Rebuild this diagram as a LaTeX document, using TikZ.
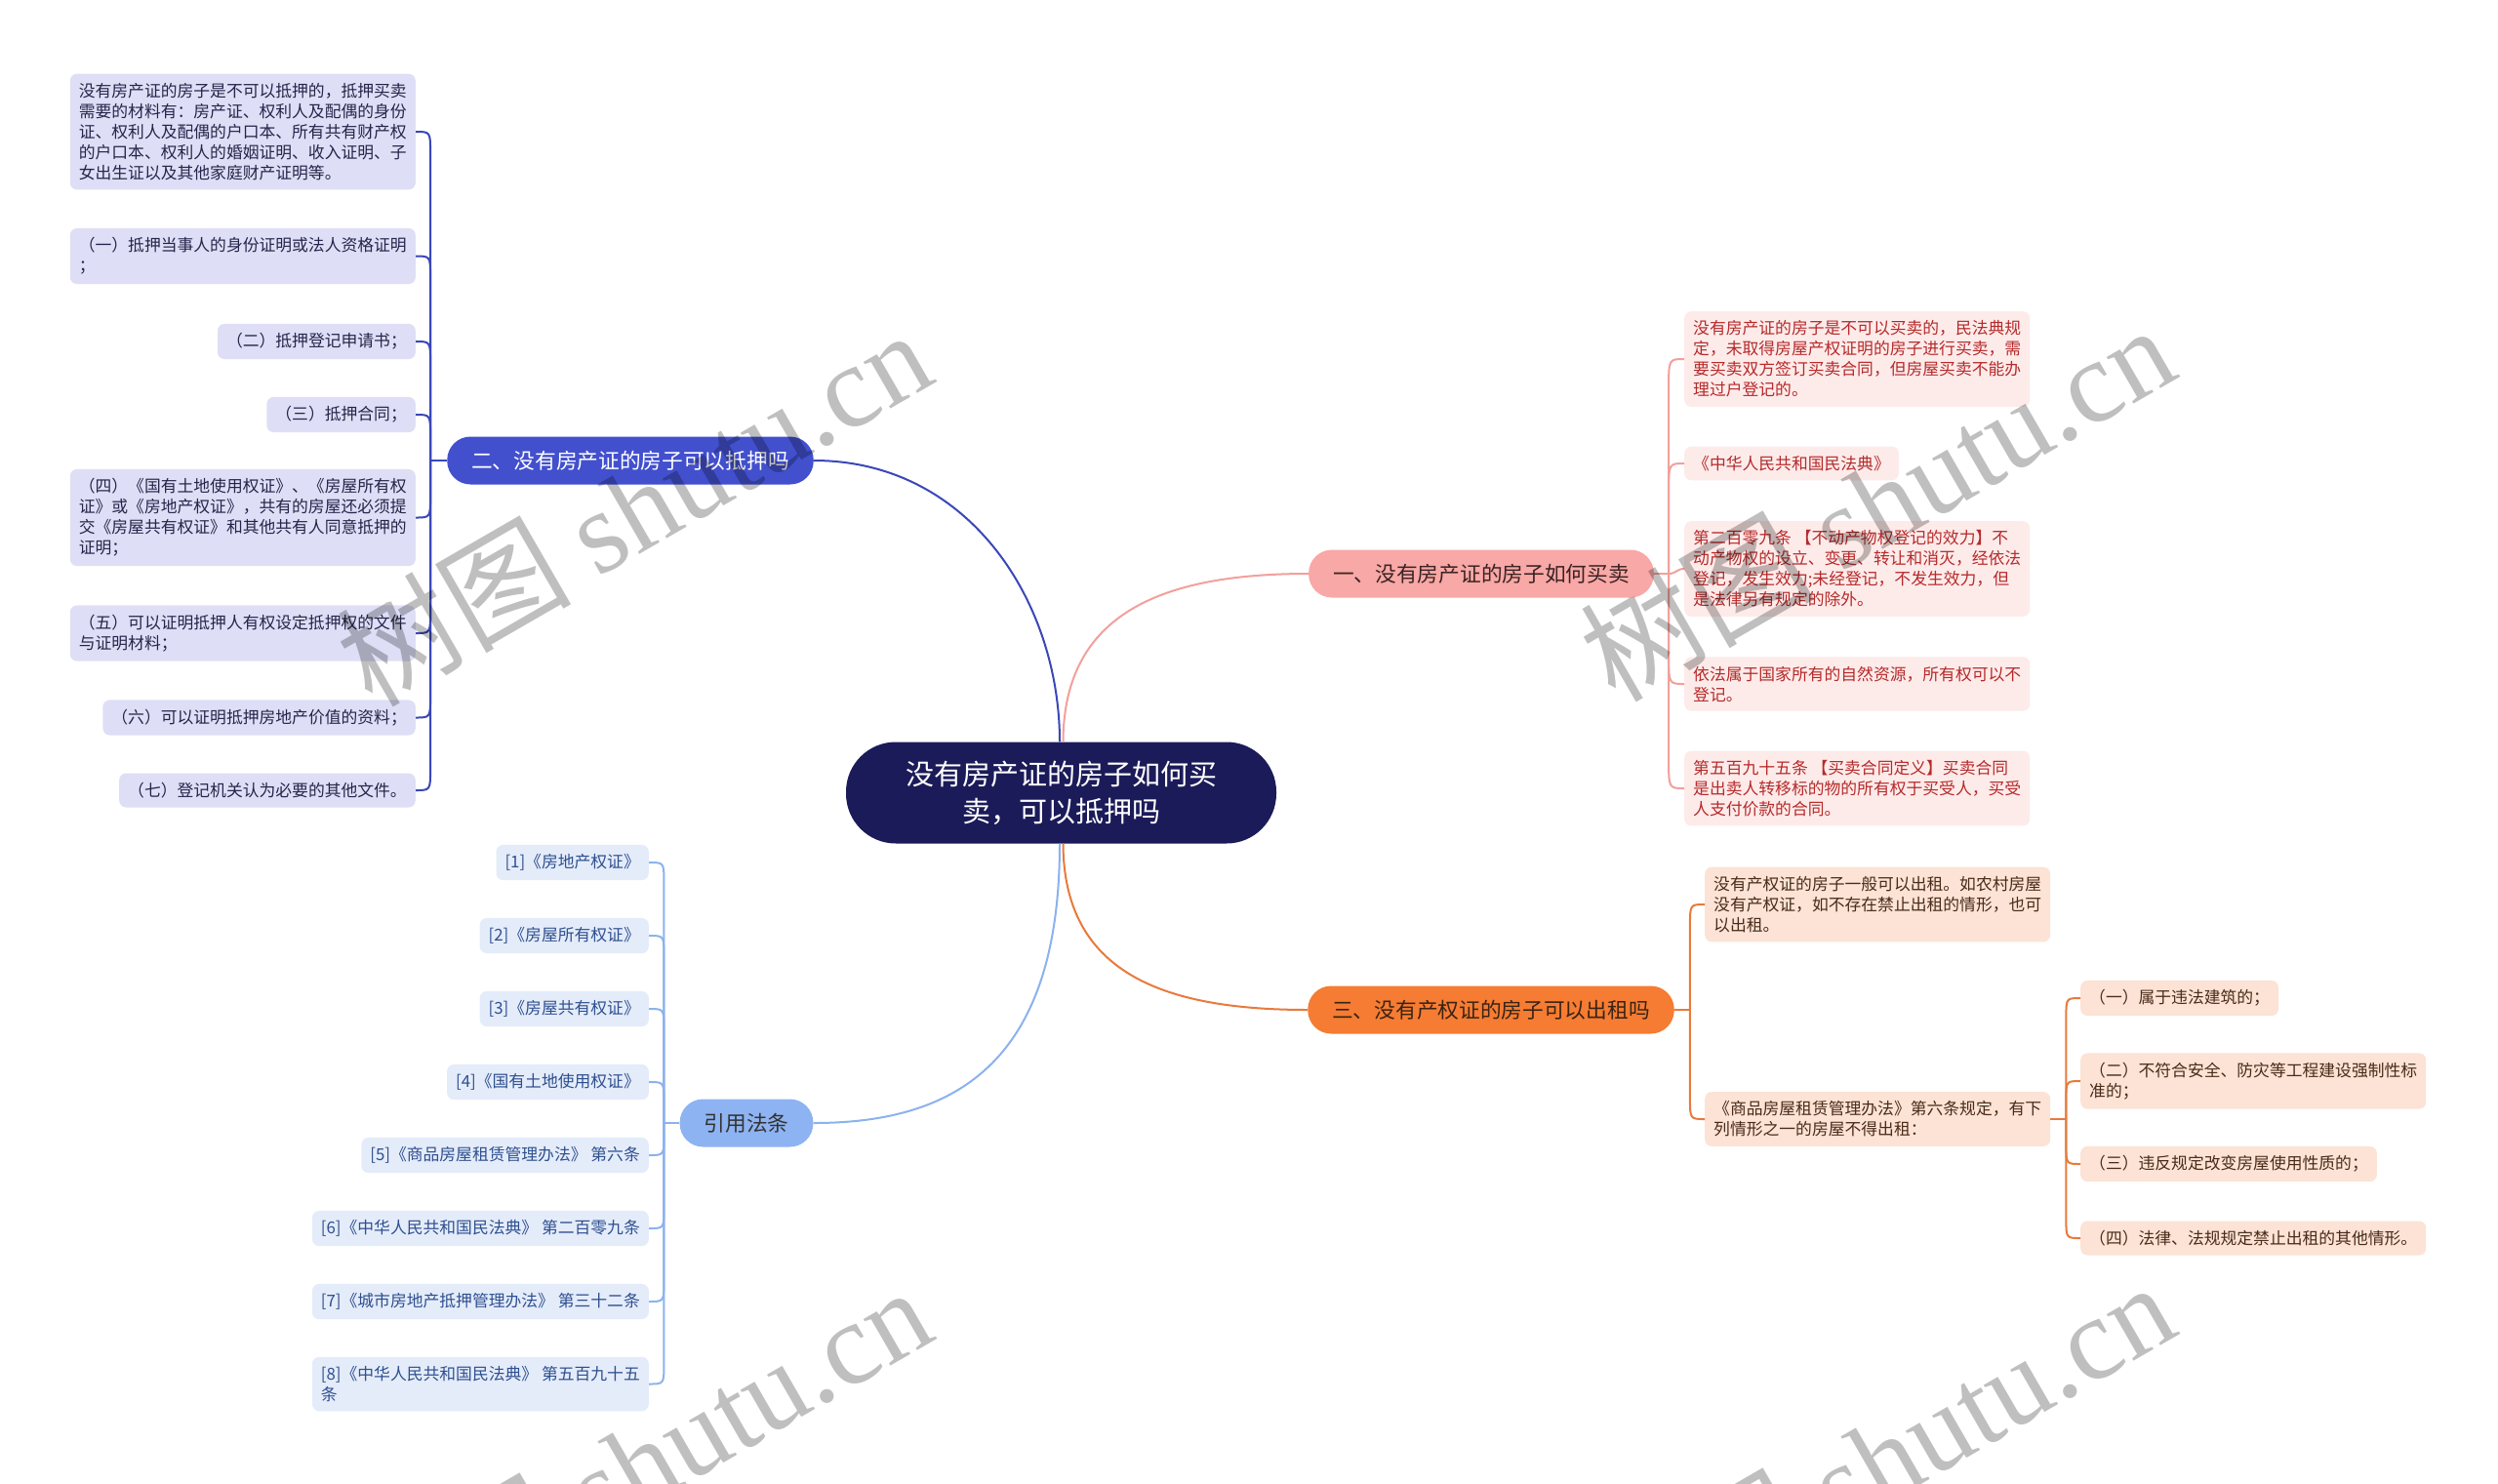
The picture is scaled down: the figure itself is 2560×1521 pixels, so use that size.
\documentclass[tikz,border=0pt]{standalone}
\usepackage{fontspec}
\setmainfont{Noto Sans CJK SC}
\newfontfamily\wmserif{Liberation Serif}
\newfontfamily\cjkf{Noto Sans CJK SC}
\usetikzlibrary{calc}
\definecolor{ctrfill}{RGB}{28,27,89}
\definecolor{btwo}{RGB}{66,80,206}
\definecolor{bone}{RGB}{248,168,166}
\definecolor{bthree}{RGB}{245,124,50}
\definecolor{bfour}{RGB}{141,179,242}
\definecolor{twoline}{RGB}{58,71,184}
\definecolor{oneline}{RGB}{242,160,156}
\definecolor{threeline}{RGB}{232,122,60}
\definecolor{fourline}{RGB}{140,178,238}
\definecolor{twoleaf}{RGB}{222,223,246}
\definecolor{twotext}{RGB}{37,37,74}
\definecolor{oneleaf}{RGB}{253,235,234}
\definecolor{onetext}{RGB}{181,42,42}
\definecolor{threeleaf}{RGB}{252,227,213}
\definecolor{threetext}{RGB}{74,42,24}
\definecolor{fourleaf}{RGB}{228,236,250}
\definecolor{fourtext}{RGB}{47,79,143}
\newcommand\hookto[4]{\draw[#4] (#1) -- ($(#1 |- #2)+(0,#3)$) .. controls (#1 |- #2) .. (#2);}
\newcommand\sto[3]{\draw[#3] (#1) .. controls ([xshift=8pt]#1) and ([xshift=-8pt]#2) .. (#2);}
\newcommand\stol[3]{\draw[#3] (#1) .. controls ([xshift=-8pt]#1) and ([xshift=8pt]#2) .. (#2);}
\begin{document}
\begin{tikzpicture}[x=1pt,y=-1pt,
  leaf/.style={rounded corners=7pt, inner xsep=9pt, inner ysep=9.5pt, align=left, font=\fontsize{16.8}{21}\selectfont},
  twobox/.style={leaf, fill=twoleaf, text=twotext, anchor=east},
  onebox/.style={leaf, fill=oneleaf, text=onetext, anchor=west},
  threebox/.style={leaf, fill=threeleaf, text=threetext, anchor=west},
  fourbox/.style={leaf, fill=fourleaf, text=fourtext, anchor=east},
  branch/.style={rounded corners=24pt, minimum height=49pt, inner xsep=25pt, inner ysep=0pt, font=\fontsize{21.7}{26}\selectfont},
  ctrbox/.style={rounded corners=51pt, fill=ctrfill, text=white, minimum width=441pt, minimum height=104pt, align=center, inner sep=0pt, font=\fontsize{29}{38}\selectfont},
  lnTwo/.style={draw=twoline, line width=2pt},
  lnOne/.style={draw=oneline, line width=2pt},
  lnThree/.style={draw=threeline, line width=2pt},
  lnFour/.style={draw=fourline, line width=2pt},
  wmark/.style={text=black, opacity=0.25, rotate=30, inner sep=0pt},
]
\useasboundingbox[fill=white] (0,0) rectangle (2560,1521);

% central and main branches
\node[ctrbox] (c) at (1087.5,812.5) {没有房产证的房子如何买\\卖，可以抵押吗};
\node[branch, fill=btwo, text=white] (n2) at (646,472) {二、没有房产证的房子可以抵押吗};
\node[branch, fill=bone, text={rgb,255:red,59;green,35;blue,35}] (n1) at (1518,588) {一、没有房产证的房子如何买卖};
\node[branch, fill=bthree, text={rgb,255:red,59;green,35;blue,20}] (n3) at (1528,1035) {三、没有产权证的房子可以出租吗};
\node[branch, fill=bfour, text={rgb,255:red,51;green,51;blue,51}] (n4) at (765,1151) {引用法条};

% main connectors
\draw[lnTwo] ([xshift=-1.5pt]c.north) .. controls (1086,618) and (994,472) .. (n2.east);
\draw[lnOne] ([xshift=2pt]c.north) .. controls (1090,629) and (1190,588) .. (n1.west);
\draw[lnThree] ([xshift=2pt]c.south) .. controls (1090,996) and (1190,1035) .. (n3.west);
\draw[lnFour] ([xshift=-1.5pt]c.south) .. controls (1086,1095) and (973,1151) .. (n4.east);

% branch two leaves (left)
\node[twobox] (a1) at (426,135) {没有房产证的房子是不可以抵押的，抵押买卖\\需要的材料有：房产证、权利人及配偶的身份\\证、权利人及配偶的户口本、所有共有财产权\\的户口本、权利人的婚姻证明、收入证明、子\\女出生证以及其他家庭财产证明等。};
\node[twobox] (a2) at (426,262.5) {（一）抵押当事人的身份证明或法人资格证明\\；};
\node[twobox] (a3) at (426,350) {（二）抵押登记申请书；};
\node[twobox] (a4) at (426,425) {（三）抵押合同；};
\node[twobox] (a5) at (426,530.5) {（四）《国有土地使用权证》、《房屋所有权\\证》或《房地产权证》，共有的房屋还必须提\\交《房屋共有权证》和其他共有人同意抵押的\\证明；};
\node[twobox] (a6) at (426,649) {（五）可以证明抵押人有权设定抵押权的文件\\与证明材料；};
\node[twobox] (a7) at (426,735.5) {（六）可以证明抵押房地产价值的资料；};
\node[twobox] (a8) at (426,810) {（七）登记机关认为必要的其他文件。};

\coordinate (h2) at ([xshift=-17pt]n2.west);
\draw[lnTwo] (n2.west) -- (h2);
\hookto{h2}{a1.east}{22}{lnTwo}
\hookto{h2}{a2.east}{22}{lnTwo}
\hookto{h2}{a3.east}{22}{lnTwo}
\hookto{h2}{a4.east}{22}{lnTwo}
\hookto{h2}{a5.east}{-22}{lnTwo}
\hookto{h2}{a6.east}{-22}{lnTwo}
\hookto{h2}{a7.east}{-22}{lnTwo}
\hookto{h2}{a8.east}{-22}{lnTwo}

% branch one leaves (right)
\node[onebox] (b1) at (1726,368) {没有房产证的房子是不可以买卖的，民法典规\\定，未取得房屋产权证明的房子进行买卖，需\\要买卖双方签订买卖合同，但房屋买卖不能办\\理过户登记的。};
\node[onebox] (b2) at (1726,475) {《中华人民共和国民法典》};
\node[onebox] (b3) at (1726,583) {第二百零九条 【不动产物权登记的效力】不\\动产物权的设立、变更、转让和消灭，经依法\\登记，发生效力;未经登记，不发生效力，但\\是法律另有规定的除外。};
\node[onebox] (b4) at (1726,701) {依法属于国家所有的自然资源，所有权可以不\\登记。};
\node[onebox] (b5) at (1726,808) {第五百九十五条 【买卖合同定义】买卖合同\\是出卖人转移标的物的所有权于买受人，买受\\人支付价款的合同。};

\coordinate (h1) at ([xshift=15pt]n1.east);
\draw[lnOne] (n1.east) -- (h1);
\hookto{h1}{b1.west}{30}{lnOne}
\hookto{h1}{b2.west}{30}{lnOne}
\sto{h1}{b3.west}{lnOne}
\hookto{h1}{b4.west}{-30}{lnOne}
\hookto{h1}{b5.west}{-30}{lnOne}

% branch three leaves
\node[threebox] (d1) at (1747,927) {没有产权证的房子一般可以出租。如农村房屋\\没有产权证，如不存在禁止出租的情形，也可\\以出租。};
\node[threebox] (d2) at (1747,1147) {《商品房屋租赁管理办法》第六条规定，有下\\列情形之一的房屋不得出租：};

\coordinate (h3) at ([xshift=16pt]n3.east);
\draw[lnThree] (n3.east) -- (h3);
\hookto{h3}{d1.west}{22}{lnThree}
\hookto{h3}{d2.west}{-22}{lnThree}

\node[threebox] (e1) at (2132,1023) {（一）属于违法建筑的；};
\node[threebox] (e2) at (2132,1108) {（二）不符合安全、防灾等工程建设强制性标\\准的；};
\node[threebox] (e3) at (2132,1193) {（三）违反规定改变房屋使用性质的；};
\node[threebox] (e4) at (2132,1269) {（四）法律、法规规定禁止出租的其他情形。};

\coordinate (h5) at ([xshift=16pt]d2.east);
\draw[lnThree] (d2.east) -- (h5);
\hookto{h5}{e1.west}{20}{lnThree}
\hookto{h5}{e2.west}{20}{lnThree}
\hookto{h5}{e3.west}{-20}{lnThree}
\hookto{h5}{e4.west}{-20}{lnThree}

% references
\node[fourbox] (f1) at (665,884) {[1]《房地产权证》};
\node[fourbox] (f2) at (665,959) {[2]《房屋所有权证》};
\node[fourbox] (f3) at (665,1034) {[3]《房屋共有权证》};
\node[fourbox] (f4) at (665,1109) {[4]《国有土地使用权证》};
\node[fourbox] (f5) at (665,1184) {[5]《商品房屋租赁管理办法》 第六条};
\node[fourbox] (f6) at (665,1259) {[6]《中华人民共和国民法典》 第二百零九条};
\node[fourbox] (f7) at (665,1334) {[7]《城市房地产抵押管理办法》 第三十二条};
\node[fourbox] (f8) at (665,1418.5) {[8]《中华人民共和国民法典》 第五百九十五\\条};

\coordinate (h4) at ([xshift=-16pt]n4.west);
\draw[lnFour] (n4.west) -- (h4);
\hookto{h4}{f1.east}{20}{lnFour}
\hookto{h4}{f2.east}{20}{lnFour}
\hookto{h4}{f3.east}{20}{lnFour}
\hookto{h4}{f4.east}{20}{lnFour}
\hookto{h4}{f5.east}{-20}{lnFour}
\hookto{h4}{f6.east}{-20}{lnFour}
\hookto{h4}{f7.east}{-20}{lnFour}
\hookto{h4}{f8.east}{-20}{lnFour}

% watermarks
\node[wmark] (w1) at (649,519) {\fontsize{120}{120}\selectfont\cjkf 树图 \wmserif shutu.cn};
\node[wmark] (w2) at (1923,514) {\fontsize{120}{120}\selectfont\cjkf 树图 \wmserif shutu.cn};
\node[wmark] (w3) at (649,1500) {\fontsize{120}{120}\selectfont\cjkf 树图 \wmserif shutu.cn};
\node[wmark] (w4) at (1923,1495) {\fontsize{120}{120}\selectfont\cjkf 树图 \wmserif shutu.cn};
\end{tikzpicture}
\end{document}
